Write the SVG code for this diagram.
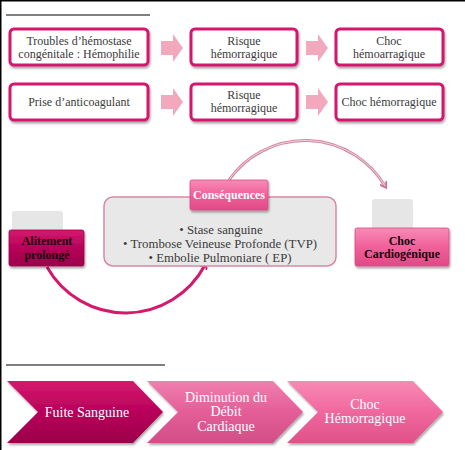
<svg xmlns="http://www.w3.org/2000/svg" width="465" height="450" viewBox="0 0 465 450">
<defs>
<style>
.t{font-family:"Liberation Serif","Times New Roman",serif;font-size:12px;fill:#3a3a3a;text-anchor:middle}
.l{font-family:"Liberation Serif","Times New Roman",serif;font-size:12.8px;fill:#3a3a3a;text-anchor:middle}
.b{font-family:"Liberation Serif","Times New Roman",serif;font-size:12px;font-weight:bold;text-anchor:middle}
.w{font-family:"Liberation Serif","Times New Roman",serif;font-size:14px;fill:#fff;text-anchor:middle}
.box{fill:#fff;stroke:#D4186C;stroke-width:3}
.parr{fill:#F2A9BE}
.rule{stroke:#000;stroke-width:1.5}
</style>
<linearGradient id="gMag" x1="0" y1="0" x2="0" y2="1">
<stop offset="0" stop-color="#D41A6E"/><stop offset="0.5" stop-color="#B8005A"/><stop offset="1" stop-color="#9C004A"/>
</linearGradient>
<linearGradient id="gPink" x1="0" y1="0" x2="0" y2="1">
<stop offset="0" stop-color="#F88BB6"/><stop offset="0.5" stop-color="#F0609A"/><stop offset="1" stop-color="#E04A86"/>
</linearGradient>
<linearGradient id="gPink2" x1="0" y1="0" x2="0" y2="1">
<stop offset="0" stop-color="#F07FAE"/><stop offset="0.5" stop-color="#E45E98"/><stop offset="1" stop-color="#D24E86"/>
</linearGradient>
<linearGradient id="gPink3" x1="0" y1="0" x2="0" y2="1">
<stop offset="0" stop-color="#F88AB4"/><stop offset="0.5" stop-color="#F0679E"/><stop offset="1" stop-color="#DE5288"/>
</linearGradient>
<filter id="sh" x="-10%" y="-10%" width="130%" height="140%">
<feDropShadow dx="1" dy="2" stdDeviation="1.2" flood-color="#000" flood-opacity="0.35"/>
</filter>
<marker id="mMag" markerWidth="8" markerHeight="8" refX="4" refY="4" orient="auto" markerUnits="userSpaceOnUse">
<path d="M0,0 L6,4 L0,8" fill="none" stroke="#D4186C" stroke-width="2"/>
</marker>
<marker id="mLt" markerWidth="8" markerHeight="8" refX="4" refY="4" orient="auto" markerUnits="userSpaceOnUse">
<path d="M0,0 L6,4 L0,8" fill="none" stroke="#C97895" stroke-width="2"/>
</marker>
</defs>
<rect x="0" y="0" width="465" height="450" fill="#fff"/>
<line x1="0" y1="0.75" x2="465" y2="0.75" class="rule"/>
<line x1="0.75" y1="0" x2="0.75" y2="450" class="rule"/>
<line x1="6" y1="15" x2="150" y2="15" stroke="#000" stroke-width="1.2"/>
<line x1="6" y1="365" x2="165" y2="365" stroke="#000" stroke-width="1.2"/>

<g id="connectors">
<path class="parr" d="M161,41 H173 V34 L183,48 L173,62 V55 H161 Z"/>
<path class="parr" d="M306,41 H318 V34 L328,48 L318,62 V55 H306 Z"/>
<path class="parr" d="M161,95 H173 V88 L183,102 L173,116 V109 H161 Z"/>
<path class="parr" d="M306,95 H318 V88 L328,102 L318,116 V109 H306 Z"/>
<path d="M229,180 A93 93 0 0 1 385,186" fill="none" stroke="#D28BA4" stroke-width="3" marker-end="url(#mLt)"/>
<path d="M229,180 A93 93 0 0 1 385,186" fill="none" stroke="#F2D3DE" stroke-width="1"/>
<path d="M47,267 A90 90 0 0 0 205,265" fill="none" stroke="#D4186C" stroke-width="3" marker-end="url(#mMag)"/>
</g>

<g id="n1"><rect class="box" x="10" y="29" width="138" height="36" rx="4" filter="url(#sh)"/>
<text class="t" x="79" y="45">Troubles d’hémostase</text><text class="t" x="79" y="58">congénitale :  Hémophilie</text></g>
<g id="n2"><rect class="box" x="191" y="29" width="106" height="36" rx="4" filter="url(#sh)"/>
<text class="t" x="244" y="45">Risque</text><text class="t" x="244" y="58">hémorragique</text></g>
<g id="n3"><rect class="box" x="336" y="29" width="107" height="36" rx="4" filter="url(#sh)"/>
<text class="t" x="389" y="45">Choc</text><text class="t" x="389" y="58">hémoarragique</text></g>
<g id="n4"><rect class="box" x="10" y="84" width="138" height="36" rx="4" filter="url(#sh)"/>
<text class="t" x="79" y="106">Prise d’anticoagulant</text></g>
<g id="n5"><rect class="box" x="191" y="84" width="106" height="36" rx="4" filter="url(#sh)"/>
<text class="t" x="244" y="99">Risque</text><text class="t" x="244" y="112">hémorragique</text></g>
<g id="n6"><rect class="box" x="336" y="84" width="107" height="36" rx="4" filter="url(#sh)"/>
<text class="t" x="389" y="106">Choc hémorragique</text></g>

<g id="consequences-list"><rect x="104" y="197" width="232" height="69" rx="9" fill="#E8E8E8" stroke="#DC86A6" stroke-width="1.5"/>
<text class="l" x="221" y="234">• Stase sanguine</text>
<text class="l" x="220" y="248">• Trombose Veineuse Profonde (TVP)</text>
<text class="l" x="220" y="262">• Embolie Pulmoniare ( EP)</text></g>
<g id="consequences"><rect x="190" y="180" width="78" height="30" rx="2" fill="url(#gPink)" stroke="#D84A86" stroke-width="0.8" filter="url(#sh)"/>
<text class="b" x="229" y="199" fill="#fff">Conséquences</text></g>

<g id="alitement"><rect x="12" y="211" width="51" height="25" rx="3" fill="#E6E6E6"/>
<rect x="9" y="230" width="75" height="36" rx="2" fill="url(#gMag)" stroke="#A0004C" stroke-width="0.8" filter="url(#sh)"/>
<text class="b" x="47" y="245" fill="#1a0008">Alitement</text><text class="b" x="47" y="259" fill="#1a0008">prolongé</text></g>

<g id="choc-cardio"><rect x="372" y="199" width="41" height="32" rx="3" fill="#E6E6E6"/>
<rect x="355" y="228" width="94" height="38" rx="2" fill="url(#gPink)" stroke="#D84A86" stroke-width="0.8" filter="url(#sh)"/>
<text class="b" x="402" y="245" fill="#1a0008">Choc</text><text class="b" x="402" y="258" fill="#1a0008">Cardiogénique</text></g>

<g id="c1"><path d="M7,381 H133 L163,412 L133,443 H7 L38,412 Z" fill="url(#gMag)" filter="url(#sh)"/>
<text class="w" x="87" y="417">Fuite Sanguine</text></g>
<g id="c2"><path d="M147,381 H273 L303,412 L273,443 H147 L178,412 Z" fill="url(#gPink2)" filter="url(#sh)"/>
<text class="w" x="226" y="402">Diminution du</text><text class="w" x="226" y="416">Débit</text><text class="w" x="226" y="431">Cardiaque</text></g>
<g id="c3"><path d="M287,381 H413 L443,412 L413,443 H287 L318,412 Z" fill="url(#gPink3)" filter="url(#sh)"/>
<text class="w" x="365" y="409">Choc</text><text class="w" x="365" y="423">Hémorragique</text></g>
</svg>
